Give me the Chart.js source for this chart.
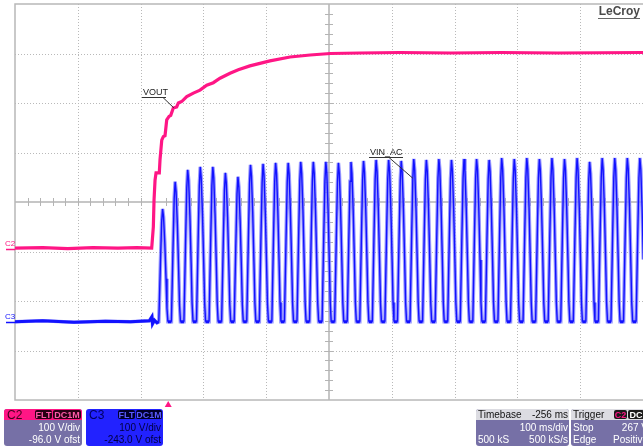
<!DOCTYPE html>
<html>
<head>
<meta charset="utf-8">
<script src="https://cdn.jsdelivr.net/npm/chart.js@4/dist/chart.umd.min.js"></script>
<style>
  html, body { margin: 0; padding: 0; background: #fff; }
  #wrap { width: 643px; height: 448px; }
</style>
</head>
<body>
<div id="wrap"><canvas id="scope" width="643" height="448"></canvas></div>
<script>
// C2 (VOUT) trace, time in ms from trigger, volts
const c2Time = [-244, -200, -160, -120, -80, -50, -26.3, -23.7, -22.6, -21, -19.4, -14.2, -13.1, -10.3, -7.8, -5.1, -2.4,
  1.3, 4, 8.1, 13.5, 16.1, 21.5, 29.5, 40, 50.6, 61.3, 71.8, 82.5, 98.4, 111.6, 130, 162, 194, 226, 258, 305, 369,
  450, 530, 620, 756];
const c2Volt = [1, 2, 0, 2, 1, 2, 1, 44, 98, 138, 153, 153, 179, 219, 226, 228, 260,
  267, 269, 284, 286, 294, 297, 307, 314, 320, 330, 335, 344, 354, 361, 369, 379, 387, 391, 394, 395, 396,
  395, 396, 395, 396];

// C3 (VIN_AC) trace, one row per pulse after the idle baseline
const c3Time = [
  -244, -200, -150, -100, -60, -30, -26, -25, -22, -18,
  -15, -12.5, -10.5, -9, -7.5, -5.5, -3.5, -2, -0.5,
  5, 7.5, 9.5, 11, 12.5, 14.5, 16.5, 18, 19.5,
  25, 27.5, 29.5, 31, 32.5, 34.5, 36.5, 38, 39.5,
  45, 47.5, 49.5, 51, 52.5, 54.5, 56.5, 58, 59.5,
  65, 67.5, 69.5, 71, 72.5, 74.5, 76.5, 78, 79.5,
  85, 87.5, 89.5, 91, 92.5, 94.5, 96.5, 98, 99.5,
  105, 107.5, 109.5, 111, 112.5, 114.5, 116.5, 118, 119.5,
  125, 127.5, 129.5, 131, 132.5, 134.5, 136.5, 138, 139.5,
  145, 147.5, 149.5, 151, 152.5, 154.5, 156.5, 158, 159.5,
  165, 167.5, 169.5, 171, 172.5, 174.5, 176.5, 178, 179.5,
  185, 187.5, 189.5, 191, 192.5, 194.5, 196.5, 198, 199.5,
  205, 207.5, 209.5, 211, 212.5, 214.5, 216.5, 218, 219.5,
  225, 227.5, 229.5, 231, 232.5, 234.5, 236.5, 238, 239.5,
  245, 247.5, 249.5, 251, 252.5, 254.5, 256.5, 258, 259.5,
  265, 267.5, 269.5, 271, 272.5, 274.5, 276.5, 278, 279.5,
  285, 287.5, 289.5, 291, 292.5, 294.5, 296.5, 298, 299.5,
  305, 307.5, 309.5, 311, 312.5, 314.5, 316.5, 318, 319.5,
  325, 327.5, 329.5, 331, 332.5, 334.5, 336.5, 338, 339.5,
  345, 347.5, 349.5, 351, 352.5, 354.5, 356.5, 358, 359.5,
  365, 367.5, 369.5, 371, 372.5, 374.5, 376.5, 378, 379.5,
  385, 387.5, 389.5, 391, 392.5, 394.5, 396.5, 398, 399.5,
  405, 407.5, 409.5, 411, 412.5, 414.5, 416.5, 418, 419.5,
  425, 427.5, 429.5, 431, 432.5, 434.5, 436.5, 438, 439.5,
  445, 447.5, 449.5, 451, 452.5, 454.5, 456.5, 458, 459.5,
  465, 467.5, 469.5, 471, 472.5, 474.5, 476.5, 478, 479.5,
  485, 487.5, 489.5, 491, 492.5, 494.5, 496.5, 498, 499.5,
  505, 507.5, 509.5, 511, 512.5, 514.5, 516.5, 518, 519.5,
  525, 527.5, 529.5, 531, 532.5, 534.5, 536.5, 538, 539.5,
  545, 547.5, 549.5, 551, 552.5, 554.5, 556.5, 558, 559.5,
  565, 567.5, 569.5, 571, 572.5, 574.5, 576.5, 578, 579.5,
  585, 587.5, 589.5, 591, 592.5, 594.5, 596.5, 598, 599.5,
  605, 607.5, 609.5, 611, 612.5, 614.5, 616.5, 618, 619.5,
  625, 627.5, 629.5, 631, 632.5, 634.5, 636.5, 638, 639.5,
  645, 647.5, 649.5, 651, 652.5, 654.5, 656.5, 658, 659.5,
  665, 667.5, 669.5, 671, 672.5, 674.5, 676.5, 678, 679.5,
  685, 687.5, 689.5, 691, 692.5, 694.5, 696.5, 698, 699.5,
  705, 707.5, 709.5, 711, 712.5, 714.5, 716.5, 718, 719.5,
  725, 727.5, 729.5, 731, 732.5, 734.5, 736.5, 738, 739.5,
  745, 747.5, 749.5, 751, 752.5, 754.5, 756.5, 758, 759.5
];
const c3Volt = [
  0, 2, -1, 1, 0, 2, 10, -4, 3, -2,
  0, 114, 201, 228, 212, 160, 87, 27, 0,
  0, 142, 249, 283, 263, 198, 108, 34, 0,
  0, 154, 270, 307, 286, 215, 117, 37, 0,
  0, 157, 275, 313, 291, 219, 119, 38, 0,
  0, 157, 275, 313, 291, 219, 119, 38, 0,
  0, 151, 265, 301, 280, 211, 114, 36, 0,
  0, 147, 258, 293, 272, 205, 111, 35, 0,
  0, 159, 279, 317, 295, 222, 120, 38, 0,
  0, 160, 281, 319, 297, 223, 121, 38, 0,
  0, 161, 282, 321, 299, 225, 122, 39, 0,
  0, 161, 282, 321, 299, 225, 122, 39, 0,
  0, 162, 284, 323, 300, 226, 123, 39, 0,
  0, 162, 284, 323, 300, 226, 123, 39, 0,
  0, 162, 284, 323, 300, 226, 123, 39, 0,
  0, 161, 282, 321, 299, 225, 122, 39, 0,
  0, 162, 284, 323, 300, 226, 123, 39, 0,
  0, 163, 286, 325, 302, 228, 124, 39, 0,
  0, 164, 288, 327, 304, 229, 124, 39, 0,
  0, 164, 288, 327, 304, 229, 124, 39, 0,
  0, 163, 286, 325, 302, 228, 124, 39, 0,
  0, 165, 290, 329, 306, 230, 125, 39, 0,
  0, 164, 288, 327, 304, 229, 124, 39, 0,
  0, 165, 290, 329, 306, 230, 125, 39, 0,
  0, 164, 288, 327, 304, 229, 124, 39, 0,
  0, 165, 290, 329, 306, 230, 125, 39, 0,
  0, 165, 290, 329, 306, 230, 125, 39, 0,
  0, 164, 288, 327, 304, 229, 124, 39, 0,
  0, 166, 291, 331, 308, 232, 126, 40, 0,
  0, 165, 290, 329, 306, 230, 125, 39, 0,
  0, 166, 291, 331, 308, 232, 126, 40, 0,
  0, 165, 290, 329, 306, 230, 125, 39, 0,
  0, 166, 291, 331, 308, 232, 126, 40, 0,
  0, 165, 290, 329, 306, 230, 125, 39, 0,
  0, 166, 291, 331, 308, 232, 126, 40, 0,
  0, 162, 284, 323, 300, 226, 123, 39, 0,
  0, 166, 291, 331, 308, 232, 126, 40, 0,
  0, 166, 291, 331, 308, 232, 126, 40, 0,
  0, 166, 291, 331, 308, 232, 126, 40, 0,
  0, 166, 291, 331, 308, 232, 126, 40, 0
];

// screen ranges: 10 div x 100 ms, 8 div x 100 V
const timeRange = [-244, 756];
const c2Range = [-306, 494];
const c3Range = [-158, 642];

const PINK = "#ff1685";
const BLUE = "#1212ff";
const FONT = '"Liberation Sans", Arial, sans-serif';

const toPoints = (ts, vs) => ts.map((t, i) => ({ x: t, y: vs[i] }));

// scope graticule: dotted divisions, solid centre cross with minor ticks
const graticule = {
  id: "graticule",
  beforeDatasetsDraw(chart) {
    const { ctx, chartArea: a } = chart;
    const dx = (a.right - a.left) / 10;
    const dy = (a.bottom - a.top) / 8;
    ctx.save();
    ctx.strokeStyle = "#b9b9b9";
    ctx.lineWidth = 1;
    ctx.setLineDash([1, 2]);
    for (let i = 1; i < 10; i++) {
      if (i === 5) continue;
      const x = Math.round(a.left + i * dx) + 0.5;
      ctx.beginPath(); ctx.moveTo(x, a.top); ctx.lineTo(x, a.bottom); ctx.stroke();
    }
    for (let j = 1; j < 8; j++) {
      if (j === 4) continue;
      const y = Math.round(a.top + j * dy) + 0.5;
      ctx.beginPath(); ctx.moveTo(a.left, y); ctx.lineTo(a.right, y); ctx.stroke();
    }
    ctx.setLineDash([]);
    const cx = Math.round(a.left + 5 * dx);
    const cy = Math.round(a.top + 4 * dy);
    ctx.strokeStyle = "#c6c6c6";
    ctx.lineWidth = 2;
    ctx.beginPath(); ctx.moveTo(cx, a.top); ctx.lineTo(cx, a.bottom); ctx.stroke();
    ctx.beginPath(); ctx.moveTo(a.left, cy); ctx.lineTo(a.right, cy); ctx.stroke();
    ctx.lineWidth = 1;
    ctx.strokeStyle = "#b4b4b4";
    for (let i = 1; i < 50; i++) {
      const x = Math.round(a.left + i * dx / 5) + 0.5;
      ctx.beginPath(); ctx.moveTo(x, cy - 4); ctx.lineTo(x, cy + 4); ctx.stroke();
    }
    for (let j = 1; j < 40; j++) {
      const y = Math.round(a.top + j * dy / 5) + 0.5;
      ctx.beginPath(); ctx.moveTo(cx - 4, y); ctx.lineTo(cx + 4, y); ctx.stroke();
    }
    // frame
    ctx.strokeStyle = "#b8b8b8";
    ctx.lineWidth = 1.5;
    ctx.strokeRect(a.left, a.top, a.right - a.left + 2, a.bottom - a.top);
    ctx.restore();
  },
};

const roundBox = (ctx, x, y, w, h, r, fill) => {
  ctx.beginPath();
  ctx.roundRect(x, y, w, h, r);
  ctx.fillStyle = fill;
  ctx.fill();
};

const badge = (ctx, x, y, w, text, bg, fg) => {
  roundBox(ctx, x, y, w, 9, 2, bg);
  ctx.fillStyle = fg;
  ctx.font = "bold 9px " + FONT;
  ctx.textAlign = "center";
  ctx.fillText(text, x + w / 2, y + 8);
};

const label = (ctx, text, x, y, color, align, size) => {
  ctx.fillStyle = color;
  ctx.font = (size || 10) + "px " + FONT;
  ctx.textAlign = align || "left";
  ctx.fillText(text, x, y);
};

// channel markers, callouts, logo and the readout boxes
const overlay = {
  id: "overlay",
  afterDraw(chart) {
    const { ctx } = chart;
    const xs = chart.scales.x;
    const y2 = chart.scales.y2;
    const y3 = chart.scales.y3;
    ctx.save();
    ctx.textBaseline = "alphabetic";

    // ground markers
    const g2 = Math.round(y2.getPixelForValue(0)) + 0.5;
    const g3 = Math.round(y3.getPixelForValue(0)) + 0.5;
    ctx.lineWidth = 1.5;
    ctx.strokeStyle = PINK;
    ctx.beginPath(); ctx.moveTo(6, g2); ctx.lineTo(15, g2); ctx.stroke();
    ctx.strokeStyle = BLUE;
    ctx.beginPath(); ctx.moveTo(6, g3); ctx.lineTo(15, g3); ctx.stroke();
    label(ctx, "C2", 5, g2 - 4, PINK, "left", 8);
    label(ctx, "C3", 5, g3 - 4, BLUE, "left", 8);

    // callouts
    ctx.strokeStyle = "#333";
    ctx.lineWidth = 1;
    label(ctx, "VOUT", 143, 95, "#222", "left", 9);
    ctx.beginPath(); ctx.moveTo(142, 97.5); ctx.lineTo(166, 97.5); ctx.stroke();
    ctx.beginPath(); ctx.moveTo(163, 97.5);
    ctx.lineTo(xs.getPixelForValue(9), y2.getPixelForValue(284)); ctx.stroke();
    label(ctx, "VIN_AC", 370, 155, "#222", "left", 9);
    ctx.beginPath(); ctx.moveTo(369, 157.5); ctx.lineTo(403, 157.5); ctx.stroke();
    ctx.beginPath(); ctx.moveTo(389, 157.5);
    ctx.lineTo(xs.getPixelForValue(389.5), y3.getPixelForValue(290)); ctx.stroke();

    // logo
    ctx.fillStyle = "#4a4a4a";
    ctx.font = "bold 12px " + FONT;
    ctx.textAlign = "right";
    ctx.fillText("LeCroy", 640, 15);
    ctx.strokeStyle = "#666";
    ctx.beginPath(); ctx.moveTo(598, 18.5); ctx.lineTo(640, 18.5); ctx.stroke();

    // trigger position arrow
    const tx = xs.getPixelForValue(0);
    ctx.fillStyle = PINK;
    ctx.beginPath(); ctx.moveTo(tx, 401); ctx.lineTo(tx + 3.5, 407); ctx.lineTo(tx - 3.5, 407); ctx.closePath(); ctx.fill();

    // C2 readout
    roundBox(ctx, 4, 409, 78, 37, 3, "#7670a6");
    roundBox(ctx, 4, 409, 78, 11, [3, 3, 0, 0], PINK);
    label(ctx, "C2", 7, 419, "#40001c", "left", 12);
    badge(ctx, 35, 410, 17, "FLT", "#2a0014", "#ff5aa8");
    badge(ctx, 53, 410, 28, "DC1M", "#2a0014", "#ff5aa8");
    label(ctx, "100 V/div", 80, 431, "#fff", "right");
    label(ctx, "-96.0 V ofst", 80, 443, "#fff", "right");

    // C3 readout
    roundBox(ctx, 86, 409, 77, 37, 3, "#2222ff");
    label(ctx, "C3", 89, 419, "#000060", "left", 12);
    badge(ctx, 118, 410, 17, "FLT", "#00002c", "#5a5aff");
    badge(ctx, 136, 410, 26, "DC1M", "#00002c", "#5a5aff");
    label(ctx, "100 V/div", 161, 431, "#000040", "right");
    label(ctx, "-243.0 V ofst", 161, 443, "#000040", "right");

    // timebase readout
    roundBox(ctx, 476, 409, 93, 37, 3, "#7670a6");
    roundBox(ctx, 476, 409, 93, 11, [3, 3, 0, 0], "#dcdce2");
    label(ctx, "Timebase", 478, 418, "#111");
    label(ctx, "-256 ms", 568, 418, "#111", "right");
    label(ctx, "100 ms/div", 568, 431, "#fff", "right");
    label(ctx, "500 kS", 478, 443, "#fff");
    label(ctx, "500 kS/s", 568, 443, "#fff", "right");

    // trigger readout
    roundBox(ctx, 571, 409, 80, 37, 3, "#7670a6");
    roundBox(ctx, 571, 409, 80, 11, [3, 3, 0, 0], "#dcdce2");
    label(ctx, "Trigger", 573, 418, "#111");
    badge(ctx, 614, 410, 13, "C2", "#1a1a1a", PINK);
    badge(ctx, 628, 410, 16, "DC", "#1a1a1a", "#fff");
    label(ctx, "Stop", 573, 431, "#fff");
    label(ctx, "267 V", 648, 431, "#fff", "right");
    label(ctx, "Edge", 573, 443, "#fff");
    label(ctx, "Positive", 648, 443, "#fff", "right");
    ctx.restore();
  },
};

const c3Points = toPoints(c3Time, c3Volt);
// flat stretches of the acquisition look thicker on screen
const flatWidth = (thin, thick) => (seg) =>
  Math.abs(seg.p0.parsed.y) < 12 && Math.abs(seg.p1.parsed.y) < 12 ? thick : thin;

new Chart(document.getElementById("scope").getContext("2d"), {
  type: "line",
  data: {
    datasets: [
      {
        label: "VOUT",
        data: toPoints(c2Time, c2Volt),
        yAxisID: "y2",
        borderColor: PINK,
        borderWidth: 3.2,
        pointRadius: 0,
        tension: 0,
      },
      {
        label: "VIN_AC",
        data: c3Points,
        yAxisID: "y3",
        borderColor: BLUE,
        borderWidth: 1.4,
        pointRadius: 0,
        tension: 0,
        segment: { borderWidth: flatWidth(1.4, 3) },
      },
      {
        label: "VIN_AC persistence",
        data: c3Points,
        yAxisID: "y3",
        borderColor: "rgba(125,125,255,0.8)",
        borderWidth: 3.6,
        pointRadius: 0,
        tension: 0,
      },
    ],
  },
  options: {
    responsive: false,
    animation: false,
    devicePixelRatio: 1,
    layout: { padding: { left: 15, top: 4, right: 0, bottom: 48 } },
    plugins: { legend: { display: false }, tooltip: { enabled: false } },
    scales: {
      x: { type: "linear", min: timeRange[0], max: timeRange[1], display: false },
      y2: { type: "linear", axis: "y", min: c2Range[0], max: c2Range[1], display: false },
      y3: { type: "linear", axis: "y", min: c3Range[0], max: c3Range[1], display: false },
    },
  },
  plugins: [graticule, overlay],
});
</script>
</body>
</html>
